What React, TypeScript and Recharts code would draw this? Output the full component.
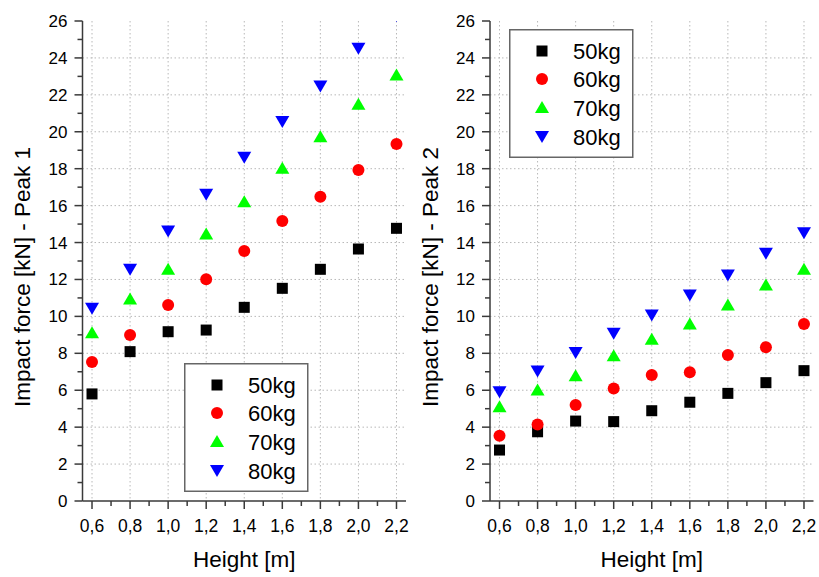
import React from 'react';
import { ScatterChart, Scatter, XAxis, YAxis, CartesianGrid, Label } from 'recharts';

const heights = [0.6, 0.8, 1.0, 1.2, 1.4, 1.6, 1.8, 2.0, 2.2];
const xTicks = [0.6, 0.7, 0.8, 0.9, 1.0, 1.1, 1.2, 1.3, 1.4, 1.5, 1.6, 1.7, 1.8, 1.9, 2.0, 2.1, 2.2];
const xGrid = [0.6, 0.8, 1.0, 1.2, 1.4, 1.6, 1.8, 2.0, 2.2];
const yTicks = [0, 1, 2, 3, 4, 5, 6, 7, 8, 9, 10, 11, 12, 13, 14, 15, 16, 17, 18, 19, 20, 21, 22, 23, 24, 25, 26];
const yGrid = [2, 4, 6, 8, 10, 12, 14, 16, 18, 20, 22, 24];

const seriesNames = ['50kg', '60kg', '70kg', '80kg'];

const peak1_50 = [5.8, 8.09, 9.17, 9.26, 10.49, 11.52, 12.55, 13.65, 14.77];
const peak1_60 = [7.53, 8.99, 10.62, 12.01, 13.54, 15.17, 16.48, 17.93, 19.34];
const peak1_70 = [9.12, 10.94, 12.55, 14.46, 16.21, 18.02, 19.73, 21.49, 23.08];
const peak1_80 = [10.44, 12.55, 14.63, 16.61, 18.62, 20.55, 22.48, 24.52, 26.3];

const peak2_50 = [2.76, 3.75, 4.33, 4.3, 4.89, 5.35, 5.83, 6.41, 7.06];
const peak2_60 = [3.54, 4.15, 5.2, 6.1, 6.83, 6.97, 7.91, 8.33, 9.59];
const peak2_70 = [5.11, 6.01, 6.79, 7.87, 8.76, 9.59, 10.62, 11.7, 12.55];
const peak2_80 = [5.92, 7.04, 8.05, 9.08, 10.08, 11.16, 12.24, 13.42, 14.53];

const FONT = '"Liberation Sans", Arial, sans-serif';
const AXIS = '#3a3a3a';
const GRID = '#b8b8b8';
const COLORS = ['#000000', '#ff0000', '#00ff00', '#0000ff'];

const toData = (vals: number[]) => heights.map((h, i) => ({ h, v: vals[i] }));

const Marker = ({ kind, cx, cy, color }: { kind: number; cx: number; cy: number; color: string }) => {
  if (kind === 0) return <rect x={cx - 5.5} y={cy - 5.5} width={11} height={11} fill={color} />;
  if (kind === 1) return <circle cx={cx} cy={cy} r={6} fill={color} />;
  if (kind === 2)
    return <polygon points={`${cx},${cy - 6.5} ${cx + 7},${cy + 5.5} ${cx - 7},${cy + 5.5}`} fill={color} />;
  return <polygon points={`${cx - 7},${cy - 5.5} ${cx + 7},${cy - 5.5} ${cx},${cy + 6.5}`} fill={color} />;
};

const isMajorX = (v: number) => Math.abs(v * 5 - Math.round(v * 5)) < 1e-6;
const fmtX = (v: number) => v.toFixed(1).replace('.', ',');

const XTick = (props: any) => {
  const { x, y, payload } = props;
  const v = payload.value as number;
  const major = isMajorX(v);
  return (
    <g>
      <line x1={x} x2={x} y1={y} y2={y + (major ? 8 : 5)} stroke={AXIS} strokeWidth={1.5} />
      {major && (
        <text x={x} y={y + 30.5} textAnchor="middle" fontFamily={FONT} fontSize={17.5} fill="#000">
          {fmtX(v)}
        </text>
      )}
    </g>
  );
};

const YTick = (props: any) => {
  const { x, y, payload } = props;
  const v = payload.value as number;
  const major = v % 2 === 0;
  return (
    <g>
      <line x1={x - (major ? 8 : 5)} x2={x} y1={y} y2={y} stroke={AXIS} strokeWidth={1.5} />
      {major && (
        <text x={x - 15} y={y + 6} textAnchor="end" fontFamily={FONT} fontSize={17} fill="#000">
          {v}
        </text>
      )}
    </g>
  );
};

const LegendBox = ({ left, top }: { left: number; top: number }) => {
  const rows = [22, 50, 78.5, 107.5];
  return (
    <svg width={125} height={130} style={{ position: 'absolute', left, top }}>
      <rect x={0.75} y={0.75} width={123} height={127.5} fill="#fff" stroke="#666" strokeWidth={1.5} />
      {seriesNames.map((n, i) => (
        <g key={n}>
          <Marker kind={i} cx={33} cy={rows[i]} color={COLORS[i]} />
          <text x={64} y={rows[i] + 8} fontFamily={FONT} fontSize={22} fill="#000">
            {n}
          </text>
        </g>
      ))}
    </svg>
  );
};

type PanelProps = {
  width: number;
  marginLeft: number;
  marginRight: number;
  series: number[][];
  yLabel: string;
  yLabelX: number;
};

const Panel = ({ width, marginLeft, marginRight, series, yLabel, yLabelX }: PanelProps) => (
  <ScatterChart
    width={width}
    height={577}
    margin={{ top: 21, right: marginRight, bottom: 16, left: marginLeft }}
  >
    <CartesianGrid
      stroke={GRID}
      strokeDasharray="1.5 2.5"
      strokeWidth={1}
      horizontalValues={yGrid}
      verticalValues={xGrid}
    />
    <XAxis
      type="number"
      dataKey="h"
      domain={[0.55, 2.25]}
      ticks={xTicks}
      interval={0}
      tickSize={0}
      tickMargin={0}
      tick={<XTick />}
      axisLine={{ stroke: AXIS, strokeWidth: 1.5 }}
      tickLine={false}
      height={60}
      allowDataOverflow
    >
      <Label
        content={(p: any) => {
          const vb = p.viewBox || {};
          return (
            <text
              x={vb.x + vb.width / 2}
              y={vb.y + 66}
              textAnchor="middle"
              fontFamily={FONT}
              fontSize={22.5}
              fill="#000"
            >
              Height [m]
            </text>
          );
        }}
      />
    </XAxis>
    <YAxis
      type="number"
      dataKey="v"
      domain={[0, 26]}
      ticks={yTicks}
      interval={0}
      tickSize={0}
      tickMargin={0}
      tick={<YTick />}
      axisLine={{ stroke: AXIS, strokeWidth: 1.5 }}
      tickLine={false}
      width={60}
      allowDataOverflow
    >
      <Label
        content={() => (
          <text
            x={yLabelX}
            y={277}
            transform={`rotate(-90 ${yLabelX} 277)`}
            textAnchor="middle"
            fontFamily={FONT}
            fontSize={22.5}
            fill="#000"
          >
            {yLabel}
          </text>
        )}
      />
    </YAxis>
    {series.map((vals, i) => (
      <Scatter
        key={seriesNames[i]}
        name={seriesNames[i]}
        data={toData(vals)}
        fill={COLORS[i]}
        isAnimationActive={false}
        shape={(p: any) => <Marker kind={i} cx={p.cx} cy={p.cy} color={COLORS[i]} />}
      />
    ))}
  </ScatterChart>
);

export default function App() {
  return (
    <div style={{ position: 'absolute', left: 0, top: 0, width: 819, height: 577, background: '#fff' }}>
      <div style={{ position: 'absolute', left: 0, top: 0 }}>
        <Panel
          width={410}
          marginLeft={22.5}
          marginRight={4}
          series={[peak1_50, peak1_60, peak1_70, peak1_80]}
          yLabel="Impact force [kN] - Peak 1"
          yLabelX={29.5}
        />
      </div>
      <LegendBox left={184} top={363} />
      <div style={{ position: 'absolute', left: 410, top: 0 }}>
        <Panel
          width={409}
          marginLeft={20}
          marginRight={5.5}
          series={[peak2_50, peak2_60, peak2_70, peak2_80]}
          yLabel="Impact force [kN] - Peak 2"
          yLabelX={28}
        />
      </div>
      <LegendBox left={509} top={29} />
    </div>
  );
}
